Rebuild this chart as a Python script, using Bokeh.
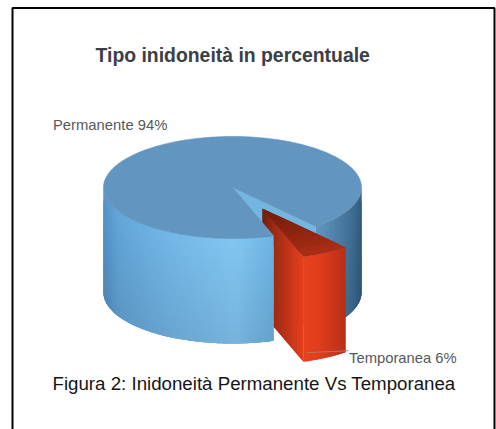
import numpy as np
from bokeh.plotting import figure
from bokeh.embed import file_html
from bokeh.resources import INLINE
from bokeh.models import Range1d
from bokeh.core.properties import value

# ---- data
categories = ["Permanente", "Temporanea"]
shares = [94, 6]
title_text = "Tipo inidoneità in percentuale"
caption_text = "Figura 2: Inidoneità Permanente Vs Temporanea"

# ---- projection of the 3D pie (page pixels)
CX, CY, RX, RY, DEPTH = 232.0, 187.0, 129.0, 51.0, 105.0
EXPLODE = 0.47
SLICE_MID = 60.6  # parametric angle of the exploded slice's centre

sweep = 360.0 * shares[1] / sum(shares)
t0, t1 = SLICE_MID - sweep / 2, SLICE_MID + sweep / 2
W, H = 496, 429

p = figure(width=W, height=H, output_backend="svg", toolbar_location=None,
           x_range=Range1d(0, W), y_range=Range1d(H, 0),
           min_border=0, outline_line_color=None,
           background_fill_color="white", border_fill_color="white")
p.axis.visible = False
p.grid.visible = False


def ell(t, ox=0.0, oy=0.0, d=0.0, r=1.0):
    a = np.radians(t)
    return CX + ox + r * RX * np.cos(a), CY + oy + r * RY * np.sin(a) + d


def mix(stops, x):
    xs = [s[0] for s in stops]
    ch = [np.interp(x, xs, [s[1][i] for s in stops]) for i in range(3)]
    return np.array(ch)


def hexc(c):
    c = np.clip(c, 0, 255).astype(int)
    return "#%02x%02x%02x" % tuple(c)


class Layer:
    def __init__(self):
        self.xs, self.ys, self.cs = [], [], []

    def add(self, xs, ys, c):
        self.xs.append(list(xs)); self.ys.append(list(ys)); self.cs.append(c)

    def draw(self):
        p.patches(self.xs, self.ys, fill_color=self.cs, line_color=None)


front_stops = [(103, (84, 146, 196)), (118, (98, 164, 214)), (170, (114, 180, 228)),
               (235, (128, 195, 238)), (273, (108, 176, 222))]
right_stops = [(315, (94, 150, 192)), (335, (80, 128, 168)), (352, (62, 108, 146)), (361, (50, 92, 124))]
cut_stops = [(263, (120, 30, 12)), (273, (156, 42, 20)), (290, (200, 54, 26)), (303, (228, 64, 30))]
outer_stops = [(303, (232, 66, 30)), (318, (226, 62, 30)), (346, (182, 48, 24))]
TOP = "#6296c1"
NV = 10


def wall(layer, ta, tb, ox, oy, stops, n):
    """Strips overlap the neighbour painted after them, so no seams show."""
    ts = np.linspace(ta, tb, n + 1)
    for i in range(n):
        k = min(i + 1, n - 1)
        xa, ya = ell(ts[i], ox, oy)
        xm, ym = ell(ts[i + 1], ox, oy)
        xb, yb = ell(ts[k + 1], ox, oy)
        base = mix(stops, 0.5 * (xa + xm))
        for j in range(NV):
            f0, f1 = j / NV, min((j + 2) / NV, 1.0)
            mid = (j + 0.5) / NV
            shade = 1.02 - 0.10 * mid
            layer.add([xa, xm, xb, xb, xm, xa],
                      [ya + DEPTH * f0, ym + DEPTH * f0, yb + DEPTH * f0,
                       yb + DEPTH * f1, ym + DEPTH * f1, ya + DEPTH * f1],
                      hexc(base * shade))


# 1 back-right wall of the big slice
lay = Layer()
wall(lay, 0, t0, 0, 0, right_stops, 24)
lay.draw()

# 2 cut face of the big slice, seen through the gap
xr, yr = ell(t0)
p.patch([CX, xr, xr, CX], [CY, yr, yr + DEPTH, CY + DEPTH], fill_color="#74b6e2", line_color=None)

# 3 exploded slice
am = np.radians(SLICE_MID)
ox, oy = EXPLODE * RX * np.cos(am), EXPLODE * RY * np.sin(am)
ax, ay = CX + ox, CY + oy

lay = Layer()
fx, fy = ell(t1, ox, oy)
n = 30
for i in range(n):
    f0, f1 = i / n, min((i + 2) / n, 1.0)
    xa, ya = ax + (fx - ax) * f0, ay + (fy - ay) * f0
    xb, yb = ax + (fx - ax) * f1, ay + (fy - ay) * f1
    c = mix(cut_stops, ax + (fx - ax) * (i + 0.5) / n)
    lay.add([xa, xb, xb, xa], [ya, yb, yb + DEPTH, ya + DEPTH], hexc(c))
ts = np.linspace(t0, t1, 25)
for i in range(23, -1, -1):
    xa, ya = ell(ts[max(i - 1, 0)], ox, oy)
    xb, yb = ell(ts[i + 1], ox, oy)
    xc, _ = ell(ts[i], ox, oy)
    xd, _ = ell(ts[i + 1], ox, oy)
    c = mix(outer_stops, 0.5 * (xc + xd))
    lay.add([xa, xb, xb, xa], [ya, yb, yb + DEPTH, ya + DEPTH], hexc(c))
# top face of the slice, dark towards the apex
arc = np.linspace(t0, t1, 13)
for i in range(11, -1, -1):
    f0, f1 = max(i - 1, 0) / 12, (i + 1) / 12
    x0, y0 = ell(arc, ox, oy, r=f0)
    x1, y1 = ell(arc, ox, oy, r=f1)
    c = mix([(0, (112, 28, 12)), (0.5, (140, 36, 16)), (1, (172, 46, 22))], (i + 0.5) / 12)
    lay.add(list(x0) + list(x1[::-1]), list(y0) + list(y1[::-1]), hexc(c))
lay.draw()

# leader line of the small slice's label
lx, ly = ell(t1, ox, oy, d=DEPTH)
p.line([lx + 3, lx + 45], [ly - 9, ly - 11], line_color="#b9735c", line_width=1)

# 4 front wall of the big slice
lay = Layer()
wall(lay, t1, 180, 0, 0, front_stops, 70)
lay.draw()

# 5 top face of the big slice
tt = np.linspace(t1, t0 + 360, 240)
tx, ty = ell(tt)
p.patch([CX] + list(tx), [CY] + list(ty), fill_color=TOP, line_color=TOP, line_width=0.6)

# frame, open at the bottom
p.line([12, 12, 494, 494], [H, 7.6, 7.6, H], line_color="black", line_width=2)

# texts
sans = value("Liberation Sans")
p.text([95], [54], text=[title_text], text_font=sans, text_font_size="19.4px", text_font_style="bold",
       text_color="#3b4046", text_baseline="middle", text_align="left")
p.text([52.5], [124], text=[f"{categories[0]} {shares[0]}%"], text_font=sans, text_font_size="14.8px",
       text_color="#55585c", text_baseline="middle", text_align="left")
p.text([348.5], [357], text=[f"{categories[1]} {shares[1]}%"], text_font=sans, text_font_size="14.8px",
       text_color="#55585c", text_baseline="middle", text_align="left")
p.text([52], [383], text=[caption_text], text_font=sans, text_font_size="18.7px",
       text_color="#151515", text_baseline="middle", text_align="left")

open("out.html", "w").write(file_html(p, INLINE))
